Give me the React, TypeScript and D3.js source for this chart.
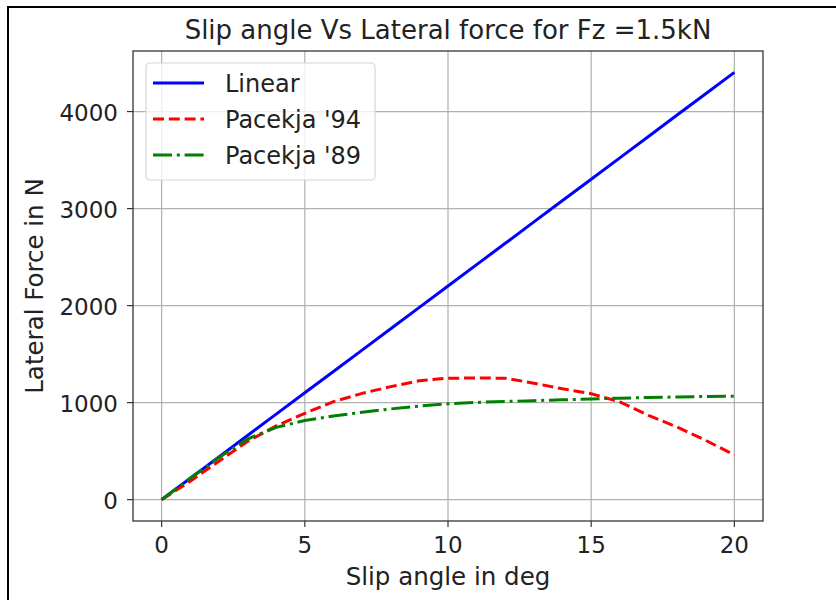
import React, { useEffect, useRef } from 'react';
import * as d3 from 'd3';

const slipAngles = [0, 1, 2, 3, 4, 5, 6, 7, 8, 9, 10, 11, 12, 13, 14, 15, 16, 17, 18, 19, 20];
const linearForce = [0, 220, 440, 661, 881, 1101, 1321, 1541, 1762, 1982, 2202, 2422, 2642, 2863, 3083, 3303, 3523, 3743, 3964, 4184, 4404];
const pacejka94 = [0, 190, 395, 600, 760, 890, 1010, 1095, 1165, 1225, 1252, 1253, 1252, 1200, 1142, 1092, 1008, 868, 748, 611, 460];
const pacejka89 = [0, 220, 435, 625, 745, 815, 862, 900, 935, 965, 988, 1002, 1012, 1020, 1029, 1038, 1046, 1053, 1058, 1063, 1067];

const xTicks = [0, 5, 10, 15, 20];
const yTicks = [0, 1000, 2000, 3000, 4000];

const seriesNames = ['Linear', "Pacekja '94", "Pacekja '89"];
const seriesColors = ['#0000ff', '#ff0000', '#008000'];
const seriesDash = ['none', '11,4.8', '19,4.8,3,4.8'];

const App = () => {
  const ref = useRef<SVGSVGElement>(null);

  useEffect(() => {
    const svg = d3.select(ref.current);
    svg.selectAll('*').remove();

    const font = '"DejaVu Sans", sans-serif';
    const ink = '#222';
    const left = 133, right = 763, top = 51, bottom = 521;

    // outer frame of the screenshot
    svg.append('rect')
      .attr('x', 8).attr('y', 7).attr('width', 840).attr('height', 600)
      .attr('fill', 'none').attr('stroke', '#000').attr('stroke-width', 2);

    const ymax = d3.max(linearForce) as number;
    const x = d3.scaleLinear().domain([-1, 21]).range([left, right]);
    const y = d3.scaleLinear().domain([-0.05 * ymax, 1.05 * ymax]).range([bottom, top]);

    const g = svg.append('g');

    // grid
    g.selectAll('.gx').data(xTicks).enter().append('line')
      .attr('x1', d => x(d)).attr('x2', d => x(d))
      .attr('y1', top).attr('y2', bottom)
      .attr('stroke', '#b0b0b0').attr('stroke-width', 1.2);
    g.selectAll('.gy').data(yTicks).enter().append('line')
      .attr('y1', d => y(d)).attr('y2', d => y(d))
      .attr('x1', left).attr('x2', right)
      .attr('stroke', '#b0b0b0').attr('stroke-width', 1.2);

    // series
    const series = [linearForce, pacejka94, pacejka89];
    const line = d3.line<number>()
      .x((_, i) => x(slipAngles[i]))
      .y(d => y(d));
    series.forEach((vals, i) => {
      g.append('path')
        .datum(vals)
        .attr('d', line)
        .attr('fill', 'none')
        .attr('stroke', seriesColors[i])
        .attr('stroke-width', 3)
        .attr('stroke-dasharray', seriesDash[i]);
    });

    // spines
    g.append('rect')
      .attr('x', left).attr('y', top)
      .attr('width', right - left).attr('height', bottom - top)
      .attr('fill', 'none').attr('stroke', '#333').attr('stroke-width', 1.3);

    // ticks
    g.selectAll('.tx').data(xTicks).enter().append('line')
      .attr('x1', d => x(d)).attr('x2', d => x(d))
      .attr('y1', bottom).attr('y2', bottom + 6)
      .attr('stroke', '#333').attr('stroke-width', 1.2);
    g.selectAll('.lx').data(xTicks).enter().append('text')
      .attr('x', d => x(d)).attr('y', bottom + 32)
      .attr('text-anchor', 'middle')
      .attr('font-family', font).attr('font-size', 23).attr('fill', ink)
      .text(d => d);
    g.selectAll('.ty').data(yTicks).enter().append('line')
      .attr('y1', d => y(d)).attr('y2', d => y(d))
      .attr('x1', left - 6).attr('x2', left)
      .attr('stroke', '#333').attr('stroke-width', 1.2);
    g.selectAll('.ly').data(yTicks).enter().append('text')
      .attr('x', left - 15).attr('y', d => y(d) + 9.5)
      .attr('text-anchor', 'end')
      .attr('font-family', font).attr('font-size', 23).attr('fill', ink)
      .text(d => d);

    // title and axis labels
    svg.append('text')
      .attr('x', (left + right) / 2).attr('y', 39)
      .attr('text-anchor', 'middle')
      .attr('font-family', font).attr('font-size', 26).attr('fill', ink)
      .text('Slip angle Vs Lateral force for Fz =1.5kN');
    svg.append('text')
      .attr('x', (left + right) / 2).attr('y', 585)
      .attr('text-anchor', 'middle')
      .attr('font-family', font).attr('font-size', 24.5).attr('fill', ink)
      .text('Slip angle in deg');
    svg.append('text')
      .attr('transform', `translate(43,${(top + bottom) / 2}) rotate(-90)`)
      .attr('text-anchor', 'middle')
      .attr('font-family', font).attr('font-size', 24.5).attr('fill', ink)
      .text('Lateral Force in N');

    // legend
    const lg = svg.append('g');
    lg.append('rect')
      .attr('x', 146).attr('y', 63).attr('width', 229).attr('height', 117)
      .attr('rx', 4)
      .attr('fill', 'rgba(255,255,255,0.8)').attr('stroke', '#d6d6d6').attr('stroke-width', 1.2);
    seriesNames.forEach((name, i) => {
      const cy = 83 + i * 36;
      lg.append('line')
        .attr('x1', 153).attr('x2', 204).attr('y1', cy).attr('y2', cy)
        .attr('stroke', seriesColors[i]).attr('stroke-width', 3)
        .attr('stroke-dasharray', seriesDash[i]);
      lg.append('text')
        .attr('x', 225).attr('y', cy + 8.5)
        .attr('font-family', font).attr('font-size', 24).attr('fill', ink)
        .text(name);
    });
  }, []);

  return (
    <svg ref={ref} width={836} height={600}
      style={{ position: 'absolute', left: 0, top: 0, background: '#fff' }} />
  );
};

export default App;
